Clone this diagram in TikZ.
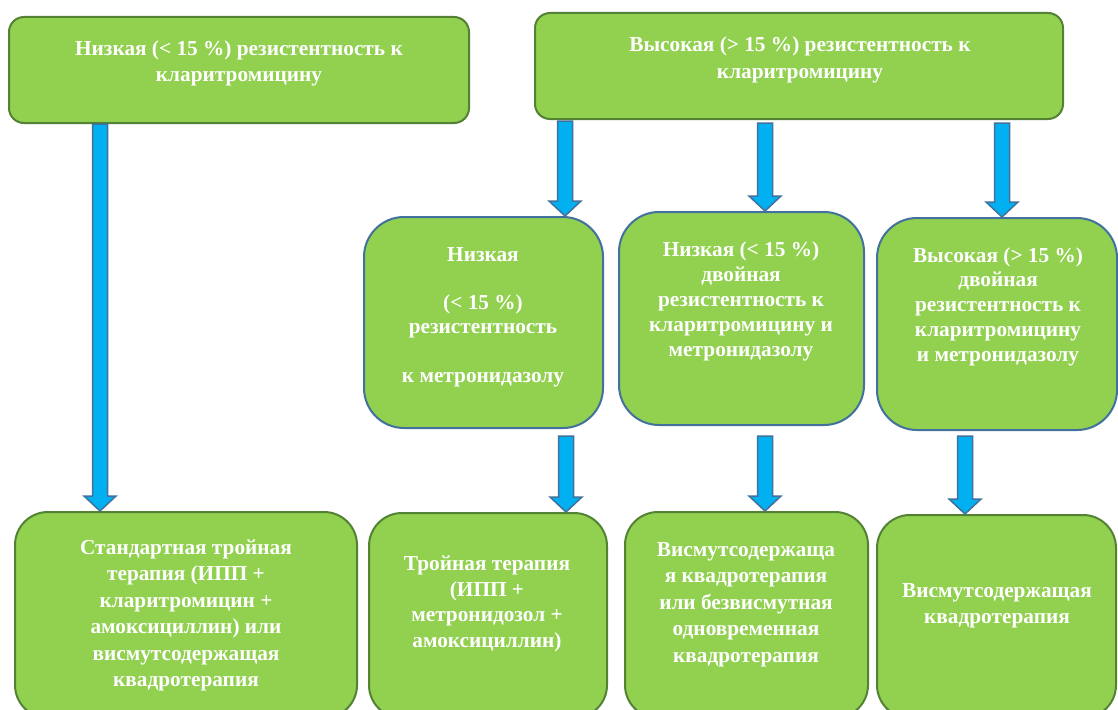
\documentclass[tikz,border=0pt]{standalone}
\usepackage{fontspec}
\setmainfont{Liberation Serif}
\usetikzlibrary{calc}
\definecolor{boxgreen}{HTML}{92D050}
\definecolor{greenedge}{HTML}{548235}
\definecolor{blueedge}{HTML}{41719C}
\definecolor{arrowfill}{HTML}{00B0F0}
\tikzset{
  box/.style={draw, line width=2pt, fill=boxgreen, rectangle, inner sep=0pt},
  gbox/.style={box, draw=greenedge},
  bbox/.style={box, draw=blueedge},
  txt/.style={text=white, font=\bfseries\fontsize{21.3}{#1}\selectfont, align=center, inner sep=0pt},
  txt/.default=25.5,
  barrow/.style={draw=blueedge, fill=arrowfill, line width=1.5pt, line join=miter},
}
\newcommand\blockarr[3]{%
  \draw[barrow] let \p1=(#1), \p2=(#2) in
  (\x1-7.5pt,\y1-#3) -- (\x1+7.5pt,\y1-#3) -- (\x1+7.5pt,\y2+15pt) -- (\x1+16pt,\y2+15pt)
  -- (\x1,\y2) -- (\x1-16pt,\y2+15pt) -- (\x1-7.5pt,\y2+15pt) -- cycle;}
\begin{document}
\begin{tikzpicture}[x=1pt,y=-1pt]
\clip (0,0) rectangle (1118,709);
\fill[white] (0,0) rectangle (1118,709);
% boxes
\node[gbox, minimum width=460pt, minimum height=106pt, rounded corners=15pt] (TL) at (239,70) {};
\node[gbox, minimum width=528pt, minimum height=106pt, rounded corners=15pt] (TR) at (799,66) {};
\node[bbox, minimum width=239pt, minimum height=211pt, rounded corners=40pt] (M1) at (483.5,322.5) {};
\node[bbox, minimum width=245pt, minimum height=213pt, rounded corners=40pt] (M2) at (741.5,318.5) {};
\node[bbox, minimum width=240pt, minimum height=212pt, rounded corners=40pt] (M3) at (997,324) {};
\node[gbox, minimum width=342pt, minimum height=206pt, rounded corners=33pt] (B1) at (186,615) {};
\node[gbox, minimum width=238pt, minimum height=205pt, rounded corners=33pt] (B2) at (488,615.5) {};
\node[gbox, minimum width=243pt, minimum height=206pt, rounded corners=33pt] (B3) at (746.5,615) {};
\node[gbox, minimum width=239pt, minimum height=203pt, rounded corners=33pt] (B4) at (996.5,616.5) {};
% texts
\node[txt=26] (tTL) at (239,63.5) {Низкая (< 15 \%) резистентность к\\кларитромицину};
\node[txt=26.5] (tTR) at (800,60) {Высокая (> 15 \%) резистентность к\\кларитромицину};
\node[txt=24.2] (tM1) at (483,317) {Низкая\\~\\(< 15 \%)\\резистентность\\~\\к метронидазолу};
\node[txt=25] (tM2) at (741,301) {Низкая (< 15 \%)\\двойная\\резистентность к\\кларитромицину и\\метронидазолу};
\node[txt=24.75] (tM3) at (998,306.5) {Высокая (> 15 \%)\\двойная\\резистентность к\\кларитромицину\\и метронидазолу};
\node[txt=26.4] (tB1) at (186,615.5) {Стандартная тройная\\терапия (ИПП +\\кларитромицин +\\амоксициллин) или\\висмутсодержащая\\квадротерапия};
\node[txt=25.7] (tB2) at (487,604) {Тройная терапия\\(ИПП +\\метронидозол +\\амоксициллин)};
\node[txt=26.5] (tB3) at (746,604.5) {Висмутсодержаща\\я квадротерапия\\или безвисмутная\\одновременная\\квадротерапия};
\node[txt=26] (tB4) at (997,606) {Висмутсодержащая\\квадротерапия};
% x positions of arrows
\coordinate (x0) at (100,0);
\coordinate (x1) at (565,0);
\coordinate (x2) at (765,0);
\coordinate (x3) at (1002,0);
\coordinate (x4) at (566,0);
\coordinate (x5) at (765,0);
\coordinate (x6) at (965,0);
% arrows
\blockarr{TL.south -| x0}{B1.north -| x0}{0pt}
\blockarr{TR.south -| x1}{M1.north -| x1}{1pt}
\blockarr{TR.south -| x2}{M2.north -| x2}{3pt}
\blockarr{TR.south -| x3}{M3.north -| x3}{3pt}
\blockarr{M1.south -| x4}{B2.north -| x4}{7pt}
\blockarr{M2.south -| x5}{B3.north -| x5}{10pt}
\blockarr{M3.south -| x6}{B4.north -| x6}{5pt}
\end{tikzpicture}
\end{document}
